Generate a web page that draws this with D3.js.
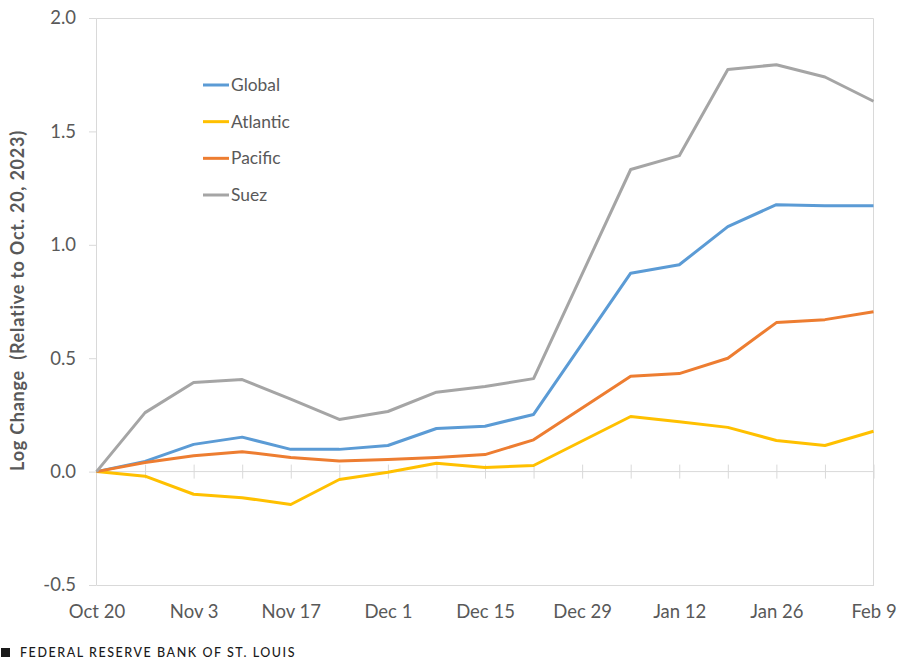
<!DOCTYPE html>
<html><head><meta charset="utf-8">
<script src="https://cdnjs.cloudflare.com/ajax/libs/d3/7.8.5/d3.min.js"></script>
<style>html,body{margin:0;padding:0;background:#fff}svg{display:block}text{font-family:Lato,sans-serif}</style>
</head><body><svg id="c" width="909" height="660"></svg>
<script>
const weeks=["Oct 20","Oct 27","Nov 3","Nov 10","Nov 17","Nov 24","Dec 1","Dec 8","Dec 15","Dec 22","Dec 29","Jan 5","Jan 12","Jan 19","Jan 26","Feb 2","Feb 9"];
const xLabels=["Oct 20","Nov 3","Nov 17","Dec 1","Dec 15","Dec 29","Jan 12","Jan 26","Feb 9"];
const yTicks=[-0.5,0,0.5,1,1.5,2];
const globalVals=[0,.045,.12,.152,.098,.098,.115,.19,.2,.252,null,.875,.912,1.08,1.177,1.172,1.172];
const atlanticVals=[0,-.02,-.1,-.115,-.145,-.035,-.003,.037,.018,.027,null,.243,.22,.195,.137,.115,.178];
const pacificVals=[0,.04,.07,.088,.062,.047,.053,.062,.075,.14,null,.42,.432,.5,.657,.67,.705];
const suezVals=[0,.26,.393,.406,.32,.23,.265,.35,.375,.41,null,1.332,1.393,1.773,1.794,1.74,1.633];
const seriesNames=["Global","Atlantic","Pacific","Suez"];
const seriesValues=[globalVals,atlanticVals,pacificVals,suezVals];
const colors=["#5b9bd5","#ffc000","#ed7d31","#a5a5a5"];

const svg=d3.select("#c");
const x=d3.scalePoint().domain(weeks).range([96.5,873.5]);
const y=d3.scaleLinear().domain([-0.5,2]).range([585,18]);
const grid="#d9d9d9",txt="#595959";

// frame
svg.append("path").attr("d",`M${x.range()[0]},${y(2)+.5}H${x.range()[1]}V${y(-0.5)+.5}`).attr("fill","none").attr("stroke",grid).attr("stroke-width",1);

const yAxis=svg.append("g").attr("transform",`translate(${x.range()[0]-0.5},0)`)
  .call(d3.axisLeft(y).tickValues(yTicks).tickFormat(d3.format(".1f")).tickSize(7).tickPadding(13));
yAxis.selectAll("path,line").attr("stroke",grid);
yAxis.selectAll("text").attr("fill",txt).style("font-size","18.5px").style("font-family","Lato,sans-serif");
yAxis.selectAll("text").text(d=>d3.format(".1f")(d).replace("\u2212","-"));

const xBottom=svg.append("g").attr("transform",`translate(0,${y(-0.5)})`)
  .call(d3.axisBottom(x).tickValues(xLabels).tickSize(0).tickPadding(20));
xBottom.select("path").attr("stroke",grid);
xBottom.selectAll("text").attr("fill",txt).style("font-size","18.5px").style("font-family","Lato,sans-serif");

// zero line with crossing ticks
const zero=svg.append("g").attr("transform",`translate(0,${y(0)})`)
  .call(d3.axisBottom(x).tickValues(weeks.slice(1)).tickFormat("").tickSize(7));
zero.select("path").attr("d",`M${x.range()[0]},0H${x.range()[1]}`).attr("stroke",grid);
zero.selectAll("line").attr("y1",-7).attr("y2",7).attr("stroke",grid);

const line=d3.line().x(d=>x(d.w)).y(d=>y(d.v));
seriesValues.forEach((vals,i)=>{
  const pts=weeks.map((w,k)=>({w,v:vals[k]})).filter(d=>d.v!==null);
  svg.append("path").datum(pts).attr("d",line).attr("fill","none")
    .attr("stroke",colors[i]).attr("stroke-width",3).attr("stroke-linejoin","round");
});

// legend
const legY=d3.scalePoint().domain(seriesNames).range([85,195]);
seriesNames.forEach((n,i)=>{
  svg.append("line").attr("x1",203).attr("x2",229).attr("y1",legY(n)).attr("y2",legY(n)).attr("stroke",colors[i]).attr("stroke-width",3);
  svg.append("text").attr("x",231).attr("y",legY(n)+6).attr("fill",txt).style("font-size","17.4px").text(n);
});

svg.append("text").attr("transform",`translate(24,300.5) rotate(-90)`).attr("text-anchor","middle")
  .attr("fill",txt).style("font-size","18px").style("font-weight","700").style("letter-spacing","0.75px").style("white-space","pre").text("Log Change  (Relative to Oct. 20, 2023)");

svg.append("rect").attr("x",1).attr("y",648).attr("width",9).attr("height",9).attr("fill","#1a1a1a");
svg.append("text").attr("x",20).attr("y",657).attr("fill","#1a1a1a").style("font-size","12.5px").style("font-weight","500").style("letter-spacing","1.55px").text("FEDERAL RESERVE BANK OF ST. LOUIS");
</script></body></html>
